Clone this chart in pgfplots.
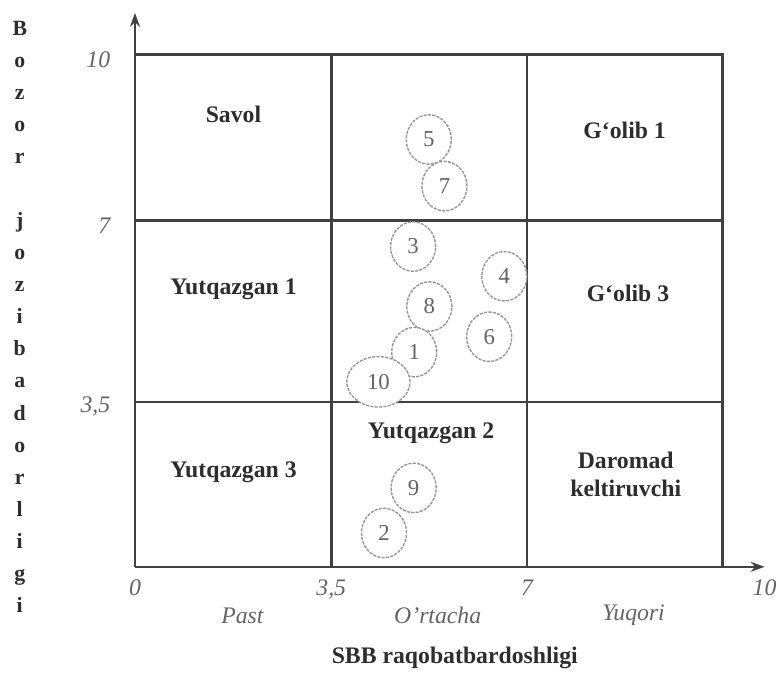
\documentclass[border=0pt]{standalone}
\usepackage{pgfplots}
\pgfplotsset{compat=1.18}
\usepackage{fontspec}
\setmainfont{Liberation Serif}
\usetikzlibrary{arrows.meta,shapes.geometric}

\definecolor{lineC}{RGB}{65,65,65}
\definecolor{bubC}{RGB}{150,150,150}
\definecolor{txtC}{RGB}{45,45,45}
\definecolor{tickC}{RGB}{100,100,100}

\begin{document}
\begin{tikzpicture}
\begin{axis}[
  scale only axis, width=318.25pt, height=280pt,
  xmin=0, xmax=11.25, ymin=0, ymax=10.81,
  axis lines=left,
  axis line style={lineC, line width=1.3pt, -{Stealth[length=7pt,width=5pt]}},
  xtick={0,3.507,7.005,11.25},
  xticklabels={\textit{0},\textit{3,5},\textit{7},\textit{10}},
  ytick={3.22,6.76,10},
  yticklabels={\textit{3,5},\textit{7},\textit{10}},
  major tick length=0pt,
  tick label style={font=\fontsize{12}{12}\selectfont\itshape, text=tickC},
  xticklabel style={yshift=-3pt},
  yticklabel style={xshift=-9pt, yshift=-2.5pt},
  clip=false,
  xlabel={SBB raqobatbardoshligi},
  every axis x label/.style={at={(rel axis cs:0.508,-0.1647)}, anchor=center,
    font=\fontsize{12}{12}\selectfont\bfseries, text=txtC},
  ylabel={B\\o\\z\\o\\r\\[16.2pt]j\\o\\z\\i\\b\\a\\d\\o\\r\\l\\i\\g\\i},
  every axis y label/.style={at={(rel axis cs:-0.183,0.4514)}, anchor=center, align=center,
    font=\fontsize{11}{16.2}\selectfont\bfseries, text=txtC},
]
% bounding frame of the picture
\path (axis cs:-2.412,-1.988) rectangle (axis cs:11.422,11.062);

% matrix grid
\draw[lineC, line width=1.3pt] (axis cs:0,10) -- (axis cs:10.5,10) -- (axis cs:10.5,0);
\draw[lineC, line width=1.3pt] (axis cs:3.507,0) -- (axis cs:3.507,10);
\draw[lineC, line width=1.3pt] (axis cs:7.005,0) -- (axis cs:7.005,10);
\draw[lineC, line width=1.3pt] (axis cs:0,3.22) -- (axis cs:10.5,3.22);
\draw[lineC, line width=1.3pt] (axis cs:0,6.76) -- (axis cs:10.5,6.76);

% cell labels
\begin{scope}[every node/.style={font=\fontsize{12}{14}\selectfont\bfseries, text=txtC, align=center}]
\node at (axis cs:1.76,8.82) {Savol};
\node at (axis cs:8.75,8.51) {G‘olib 1};
\node at (axis cs:1.76,5.41) {Yutqazgan 1};
\node at (axis cs:8.81,5.33) {G‘olib 3};
\node at (axis cs:5.29,2.61) {Yutqazgan 2};
\node at (axis cs:1.76,1.85) {Yutqazgan 3};
\node at (axis cs:8.77,1.81) {Daromad\\keltiruvchi};
\end{scope}

% category labels
\begin{scope}[every node/.style={font=\fontsize{12}{12}\selectfont\itshape, text=tickC}]
\node at (axis cs:1.92,-0.95) {Past};
\node at (axis cs:5.41,-0.95) {O’rtacha};
\node at (axis cs:8.91,-0.95) {Yuqori};
\end{scope}

% business units
\addplot[only marks, mark=none, point meta=explicit symbolic,
  nodes near coords, nodes near coords align={center},
  every node near coord/.append style={ellipse, draw=bubC, fill=white, line width=0.7pt,
    dash pattern=on 1.6pt off 0.6pt, minimum width=22.8pt, minimum height=25pt,
    inner sep=0pt, text=tickC, font=\fontsize{11.5}{11.5}\selectfont, anchor=center}]
coordinates {
(5.25,8.34) [5]
(5.53,7.43) [7]
(4.97,6.25) [3]
(6.60,5.67) [4]
(5.26,5.08) [8]
(6.33,4.49) [6]
(4.99,4.19) [1]
(4.98,1.54) [9]
(4.45,0.66) [2]
};
\addplot[only marks, mark=none, point meta=explicit symbolic,
  nodes near coords, nodes near coords align={center},
  every node near coord/.append style={ellipse, draw=bubC, fill=white, line width=0.7pt,
    dash pattern=on 1.6pt off 0.6pt, minimum width=32pt, minimum height=25.5pt,
    inner sep=0pt, text=tickC, font=\fontsize{11.5}{11.5}\selectfont, anchor=center}]
coordinates {
(4.35,3.61) [10]
};
\end{axis}
\end{tikzpicture}
\end{document}
